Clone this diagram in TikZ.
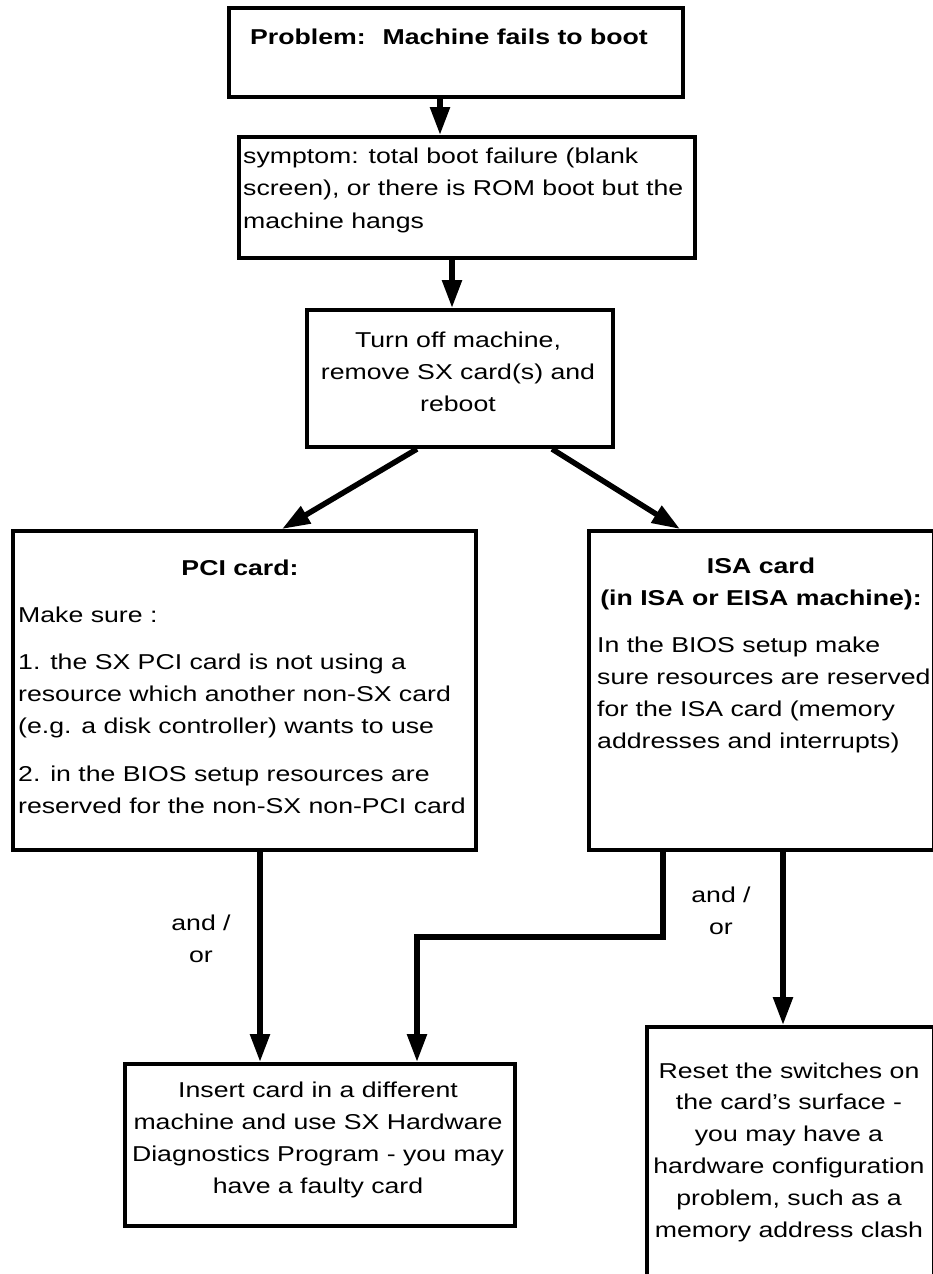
\documentclass[tikz,border=0pt]{standalone}
\usepackage{fontspec}
\setmainfont{Liberation Sans}[FakeStretch=1.24]
\usetikzlibrary{arrows.meta}
\begin{document}
\begin{tikzpicture}[x=1pt,y=-1pt,
  box/.style={draw, line width=4pt, inner sep=0pt, outer sep=2pt, anchor=north west},
  conn/.style={line width=5.5pt, line join=miter, -{Triangle[length=28pt,width=19pt]}},
  txt/.style={inner sep=0pt, font=\fontsize{21.5}{31.8}\selectfont},
]
\useasboundingbox (0,0) rectangle (933,1274);
\clip (0,0) rectangle (933,1274);

% boxes
\node[box, minimum width=454pt, minimum height=89pt]  (prob) at (227,6) {};
\node[box, minimum width=456pt, minimum height=121pt] (symp) at (237,135) {};
\node[box, minimum width=306pt, minimum height=137pt] (turn) at (305,308) {};
\node[box, minimum width=463pt, minimum height=319pt] (pci)  at (11,529) {};
\node[box, minimum width=345pt, minimum height=319pt] (isa)  at (587,529) {};
\node[box, minimum width=390pt, minimum height=162pt] (ins)  at (123,1062) {};
\node[box, minimum width=287pt, minimum height=300pt] (rst)  at (645,1025) {};

% texts (multi-line texts are placed by the baseline of their last line)
\node[txt, anchor=base] (probT) at (449,44)
  {\textbf{Problem:\hspace{17pt}Machine fails to boot}};
\node[txt, anchor=base west, align=left, font=\fontsize{21.5}{32.5}\selectfont] (sympT) at (243,228)
  {symptom: total boot failure (blank\\screen), or there is ROM boot but the\\machine hangs};
\node[txt, anchor=base, align=center, font=\fontsize{21.5}{32}\selectfont] (turnT) at (458,411)
  {Turn off machine,\\remove SX card(s) and\\reboot};
\node[txt, anchor=base] (pciH) at (240,575) {\textbf{PCI card:}};
\node[txt, anchor=base west, align=left] (pciT) at (18,813)
  {Make sure :\\[16pt]1. the SX PCI card is not using a\\resource which another non-SX card\\(e.g. a disk controller) wants to use\\[16pt]2. in the BIOS setup resources are\\reserved for the non-SX non-PCI card};
\node[txt, anchor=base, align=center, font=\bfseries\fontsize{21.5}{32}\selectfont] (isaH) at (761,605)
  {ISA card\\(in ISA or EISA machine):};
\node[txt, anchor=base west, align=left] (isaT) at (597,748)
  {In the BIOS setup make\\sure resources are reserved\\for the ISA card (memory\\addresses and interrupts)};
\node[txt, anchor=base, align=center] (insT) at (318,1193)
  {Insert card in a different\\machine and use SX Hardware\\Diagnostics Program - you may\\have a faulty card};
\node[txt, anchor=base, align=center] (rstT) at (789,1237)
  {Reset the switches on\\the card’s surface -\\you may have a\\hardware configuration\\problem, such as a\\memory address clash};
\node[txt, anchor=base, align=center] (lblL) at (201,962) {and /\\or};
\node[txt, anchor=base, align=center] (lblR) at (721,934) {and /\\or};

% connector columns
\coordinate (a1) at (440,0);
\coordinate (a2) at (452,0);
\coordinate (d1s) at (417,0);
\coordinate (d1e) at (282,0);
\coordinate (d2s) at (552,0);
\coordinate (d2e) at (680,0);
\coordinate (p1) at (260,0);
\coordinate (j1) at (663,937);
\coordinate (j2) at (417,937);
\coordinate (r1) at (783,0);

% connectors
\draw[conn] (prob.south -| a1) -- (symp.north -| a1);
\draw[conn] (symp.south -| a2) -- (turn.north -| a2);
\draw[conn] (turn.south -| d1s) -- (pci.north -| d1e);
\draw[conn] (turn.south -| d2s) -- (isa.north -| d2e);
\draw[conn] (pci.south -| p1) -- (ins.north -| p1);
\draw[conn] (isa.south -| j1) -- (j1) -- (j2) -- (ins.north -| j2);
\draw[conn] (isa.south -| r1) -- (rst.north -| r1);
\end{tikzpicture}
\end{document}
